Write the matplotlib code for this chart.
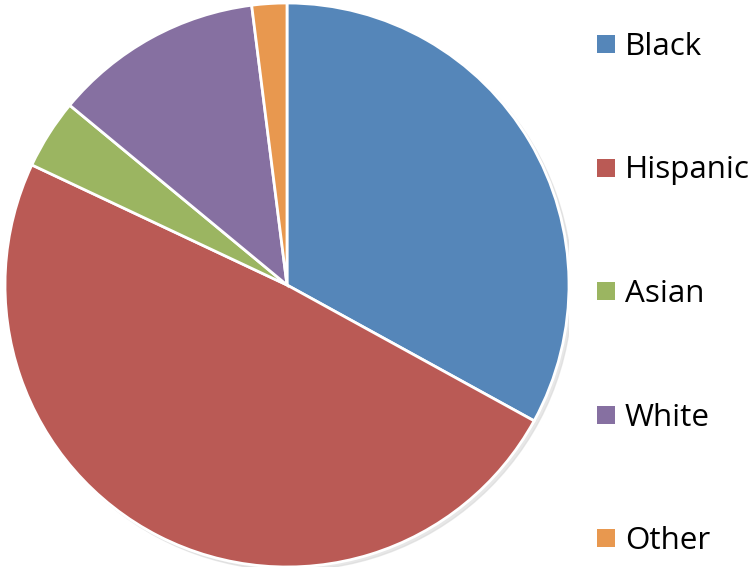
import matplotlib
matplotlib.use("Agg")
import matplotlib.pyplot as plt
from matplotlib.patches import Rectangle, Circle

categories = ["Black", "Hispanic", "Asian", "White", "Other"]
values = [33.0, 49.0, 4.0, 12.0, 2.0]
colors = ["#5586B9", "#BA5A55", "#9BB561", "#8670A1", "#E8984F"]

W, H = 754, 573
fig = plt.figure(figsize=(W / 100, H / 100), dpi=100)
fig.patch.set_facecolor("white")

cx, cy, r = 287, 285, 282
ax = fig.add_axes([(cx - r) / W, (H - cy - r) / H, 2 * r / W, 2 * r / H])
ax.set_xlim(-1, 1)
ax.set_ylim(-1, 1)
ax.set_aspect("equal")
ax.axis("off")

# faint shadow
ax.add_patch(Circle((0.012, -0.012), 1.0, color="#d8d8d8", zorder=0, alpha=0.6))

ax.pie(values, colors=colors, startangle=90, counterclock=False, radius=1.0,
       wedgeprops=dict(edgecolor="white", linewidth=2))
ax.set_xlim(-1, 1)
ax.set_ylim(-1, 1)

y0, dy = 44, 123.5
for i, (cat, col) in enumerate(zip(categories, colors)):
    yc = y0 + i * dy
    fig.patches.append(Rectangle((597 / W, 1 - (yc + 9) / H), 18 / W, 18 / H,
                                 transform=fig.transFigure, facecolor=col,
                                 edgecolor="none"))
    fig.text(625 / W, 1 - (yc + 3) / H, cat, fontsize=22.6, family="Open Sans",
             va="center", ha="left", color="black")

fig.savefig("out.png", dpi=100)
